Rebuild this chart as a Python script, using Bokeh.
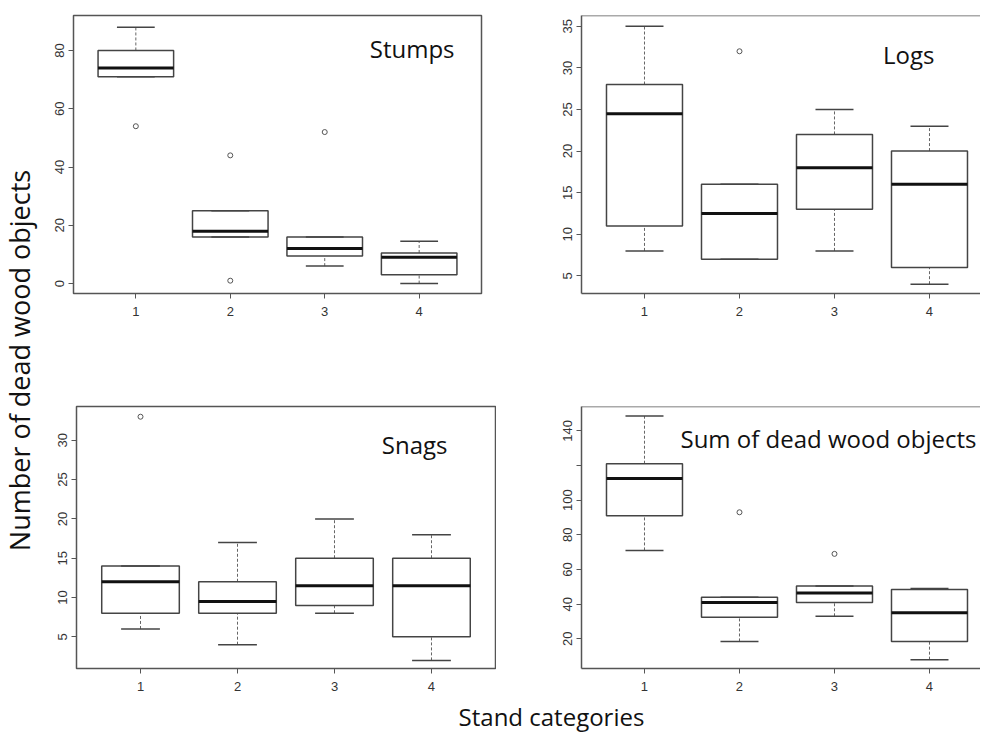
import math
from bokeh.plotting import figure
from bokeh.layouts import row, column
from bokeh.models import Range1d, FixedTicker, Label, Span
from bokeh.embed import file_html
from bokeh.resources import INLINE

# ---------------- data ----------------
categories = [1, 2, 3, 4]
category_labels = {1: "1", 2: "2", 3: "3", 4: "4"}

stumps_q1 = [71, 16, 9.5, 3]
stumps_med = [74, 18, 12, 9]
stumps_q3 = [80, 25, 16, 10.5]
stumps_lo = [71, 16, 6, 0]
stumps_hi = [88, 25, 16, 14.5]
stumps_out_x = [1, 2, 2, 3]
stumps_out_y = [54, 44, 1, 52]
stumps_ticks = [0, 20, 40, 60, 80]

logs_q1 = [11, 7, 13, 6]
logs_med = [24.5, 12.5, 18, 16]
logs_q3 = [28, 16, 22, 20]
logs_lo = [8, 7, 8, 4]
logs_hi = [35, 16, 25, 23]
logs_out_x = [2]
logs_out_y = [32]
logs_ticks = [5, 10, 15, 20, 25, 30, 35]

snags_q1 = [8, 8, 9, 5]
snags_med = [12, 9.5, 11.5, 11.5]
snags_q3 = [14, 12, 15, 15]
snags_lo = [6, 4, 8, 2]
snags_hi = [14, 17, 20, 18]
snags_out_x = [1]
snags_out_y = [33]
snags_ticks = [5, 10, 15, 20, 25, 30]

sum_q1 = [91, 32.5, 41, 18.5]
sum_med = [112.5, 41, 46.5, 35]
sum_q3 = [121, 44, 50.5, 48.5]
sum_lo = [71, 18.5, 33, 8]
sum_hi = [148.5, 44, 50.5, 49]
sum_out_x = [2, 3]
sum_out_y = [93, 69]
sum_ticks = [20, 40, 60, 80, 100, 120, 140]
sum_hidden_ticks = {120: ""}

FONT = "Open Sans"
TICK_FONT = "Liberation Sans"
FRAME = "#555555"
BOXC = "#444444"
BOX_W = 0.8
CAP_W = 0.4


def panel(title, q1, med, q3, lo, hi, ox, oy, yticks, xr, yr,
          width, height, mb_left, mb_right, mb_top, mb_bottom,
          framed, title_x, title_y, overrides=None):
    p = figure(width=width, height=height, x_range=Range1d(*xr),
               y_range=Range1d(*yr), output_backend="svg",
               toolbar_location=None, tools="",
               min_border_left=mb_left, min_border_right=mb_right,
               min_border_top=mb_top, min_border_bottom=mb_bottom)
    p.grid.visible = False
    p.background_fill_color = "white"
    p.border_fill_color = "white"

    half = BOX_W / 2
    cap = CAP_W / 2
    # whiskers (dashed)
    p.segment(x0=categories, y0=q3, x1=categories, y1=hi,
              line_color="#666666", line_width=1, line_dash="3 2")
    p.segment(x0=categories, y0=lo, x1=categories, y1=q1,
              line_color="#666666", line_width=1, line_dash="3 2")
    # boxes
    p.vbar(x=categories, width=BOX_W, bottom=q1, top=q3,
           fill_color="white", line_color=BOXC, line_width=1.5)
    # medians
    p.segment(x0=[c - half for c in categories], y0=med,
              x1=[c + half for c in categories], y1=med,
              line_color="#111111", line_width=3)
    # caps
    p.segment(x0=[c - cap for c in categories], y0=hi,
              x1=[c + cap for c in categories], y1=hi,
              line_color=BOXC, line_width=1.5)
    p.segment(x0=[c - cap for c in categories], y0=lo,
              x1=[c + cap for c in categories], y1=lo,
              line_color=BOXC, line_width=1.5)
    # outliers
    p.scatter(x=ox, y=oy, marker="circle", size=5, fill_color=None,
              line_color="#555555", line_width=1)

    p.xaxis.ticker = FixedTicker(ticks=categories)
    p.xaxis.major_label_overrides = category_labels
    p.yaxis.ticker = FixedTicker(ticks=yticks)
    if overrides:
        p.yaxis.major_label_overrides = overrides
    p.yaxis.major_label_orientation = "vertical"
    for ax in (p.xaxis[0], p.yaxis[0]):
        ax.major_tick_in = 0
        ax.major_tick_out = 5
        ax.minor_tick_in = 0
        ax.minor_tick_out = 0
        ax.major_tick_line_color = FRAME
        ax.major_label_text_font = TICK_FONT
        ax.major_label_text_font_size = "13px"
        ax.major_label_text_color = "#333333"
    p.yaxis.major_label_standoff = 4
    p.xaxis.major_label_standoff = 8

    if framed:
        p.outline_line_color = FRAME
        p.outline_line_width = 1.5
        p.axis.axis_line_color = None
    else:
        p.outline_line_color = None
        p.axis.axis_line_color = FRAME
        p.axis.axis_line_width = 1.5
        p.add_layout(Span(location=yr[1], dimension="width",
                          line_color=FRAME, line_width=1.5))

    p.add_layout(Label(x=title_x, y=title_y, x_units="screen",
                       y_units="screen", text=title, text_font=FONT,
                       text_font_size="24px", text_color="#111111",
                       text_align="right", text_baseline="alphabetic"))
    return p


stumps = panel("Stumps", stumps_q1, stumps_med, stumps_q3, stumps_lo,
               stumps_hi, stumps_out_x, stumps_out_y, stumps_ticks,
               (0.34, 4.66), (-3.4, 92), 452, 330, 35, 9, 15, 37,
               True, 381, 245)
logs = panel("Logs", logs_q1, logs_med, logs_q3, logs_lo, logs_hi,
             logs_out_x, logs_out_y, logs_ticks,
             (0.337, 4.537), (2.88, 36.3), 490, 330, 91, 0, 15, 37,
             False, 353, 239)
snags = panel("Snags", snags_q1, snags_med, snags_q3, snags_lo, snags_hi,
              snags_out_x, snags_out_y, snags_ticks,
              (0.34, 4.66), (0.97, 34.3), 458, 370, 38, 1, 76, 32,
              True, 371, 224)
sums = panel("Sum of dead wood objects", sum_q1, sum_med, sum_q3, sum_lo,
             sum_hi, sum_out_x, sum_out_y, sum_ticks,
             (0.337, 4.537), (2.9, 154), 484, 370, 85, 0, 72, 32,
             False, 395, 230, overrides=sum_hidden_ticks)


def blank(width, height):
    f = figure(width=width, height=height, x_range=Range1d(0, width),
               y_range=Range1d(0, height), output_backend="svg",
               toolbar_location=None, tools="", min_border=0)
    f.axis.visible = False
    f.grid.visible = False
    f.outline_line_color = None
    return f


ylab = blank(38, 732)
ylab.add_layout(Label(x=19, y=372, x_units="screen", y_units="screen",
                      text="Number of dead wood objects", angle=math.pi / 2,
                      text_font=FONT, text_font_size="27px",
                      text_color="#111111", text_align="center",
                      text_baseline="middle"))

xlab = blank(942, 32)
xlab.add_layout(Label(x=513, y=16, x_units="screen", y_units="screen",
                      text="Stand categories", text_font=FONT,
                      text_font_size="24px", text_color="#111111",
                      text_align="center", text_baseline="middle"))

layout = row(ylab, column(row(stumps, logs), row(snags, sums), xlab))

open("out.html", "w").write(file_html(layout, INLINE))
